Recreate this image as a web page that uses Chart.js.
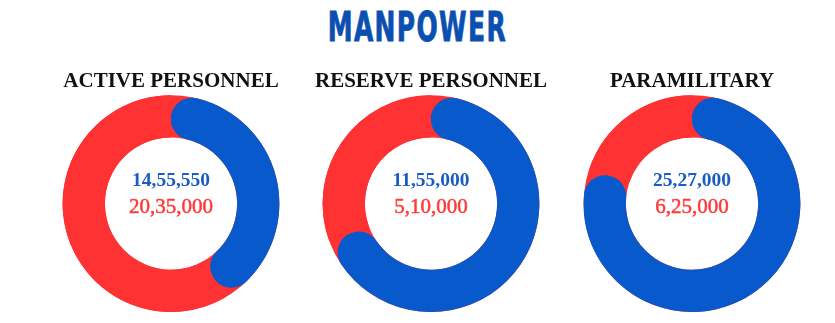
<!DOCTYPE html>
<html><head><meta charset="utf-8">
<script src="https://cdn.jsdelivr.net/npm/chart.js@4/dist/chart.umd.min.js"></script>
<style>
html,body{margin:0;padding:0;background:#fff;width:835px;height:323px;overflow:hidden;}
#title{position:absolute;left:0;top:7px;width:835px;text-align:center;line-height:1;}
#title span{display:inline-block;font-family:"DejaVu Sans Condensed","DejaVu Sans",sans-serif;font-weight:bold;font-size:40px;letter-spacing:2px;color:#0b4fb0;-webkit-text-stroke:0.8px #0b4fb0;line-height:1;transform-origin:center;}
canvas{position:absolute;top:60px;}
</style></head><body>
<div id="title"><span id="t">MANPOWER</span></div>
<canvas id="c0" width="260" height="260" style="left:41px"></canvas>
<canvas id="c1" width="260" height="260" style="left:301px"></canvas>
<canvas id="c2" width="260" height="260" style="left:562px"></canvas>
<script>
const chartTitle = "MANPOWER";
const categories = ["ACTIVE PERSONNEL", "RESERVE PERSONNEL", "PARAMILITARY"];
const blueValues = [1455550, 1155000, 2527000];
const redValues = [2035000, 510000, 625000];
const blueLabels = ["14,55,550", "11,55,000", "25,27,000"];
const redLabels = ["20,35,000", "5,10,000", "6,25,000"];

const BLUE = "#0759cc";
const RED = "#fe3133";
const TXT_BLUE = "#1a5cc4";
const TXT_RED = "#fd3a3a";

// title width fit
const t = document.getElementById('t');
t.textContent = chartTitle;
const w = t.getBoundingClientRect().width - 2;
t.style.transform = 'scaleX(' + (178 / w) + ')';

const ringBg = {
  id: 'ringBg',
  beforeDatasetsDraw(chart) {
    const a = chart.getDatasetMeta(0).data[0];
    if (!a) return;
    const ctx = chart.ctx;
    ctx.save();
    ctx.beginPath();
    ctx.arc(a.x, a.y, a.outerRadius, 0, Math.PI * 2);
    ctx.arc(a.x, a.y, a.innerRadius, Math.PI * 2, 0, true);
    ctx.closePath();
    ctx.fillStyle = RED;
    ctx.fill();
    ctx.restore();
  }
};

const centerText = {
  id: 'centerText',
  afterDatasetsDraw(chart, args, opts) {
    const a = chart.getDatasetMeta(0).data[0];
    if (!a) return;
    const ctx = chart.ctx;
    ctx.save();
    ctx.textAlign = 'center';
    ctx.textBaseline = 'alphabetic';
    ctx.font = 'bold 19.5px "Liberation Serif"';
    ctx.fillStyle = TXT_BLUE;
    ctx.fillText(opts.top, a.x, a.y - 17.5);
    ctx.font = '21px "Liberation Serif"';
    ctx.fillStyle = TXT_RED;
    ctx.lineWidth = 0.5;
    ctx.strokeStyle = TXT_RED;
    ctx.fillText(opts.bottom, a.x, a.y + 9.5);
    ctx.strokeText(opts.bottom, a.x, a.y + 9.5);
    ctx.restore();
  }
};

categories.forEach((cat, i) => {
  new Chart(document.getElementById('c' + i), {
    type: 'doughnut',
    data: {
      labels: ['blue', 'red'],
      datasets: [{
        data: [blueValues[i], redValues[i]],
        backgroundColor: [BLUE, RED],
        borderWidth: 0,
        borderRadius: (c) => c.dataIndex === 0 ? 200 : 0
      }]
    },
    options: {
      responsive: false,
      animation: false,
      devicePixelRatio: 1,
      cutout: '61%',
      events: [],
      layout: { padding: { bottom: 8 } },
      plugins: {
        legend: { display: false },
        tooltip: { enabled: false },
        title: {
          display: true,
          text: cat,
          color: '#111',
          font: { family: '"Liberation Serif"', weight: 'bold', size: 21 },
          padding: { top: 9, bottom: 1 }
        },
        centerText: { top: blueLabels[i], bottom: redLabels[i] }
      }
    },
    plugins: [ringBg, centerText]
  });
});
</script>
</body></html>
